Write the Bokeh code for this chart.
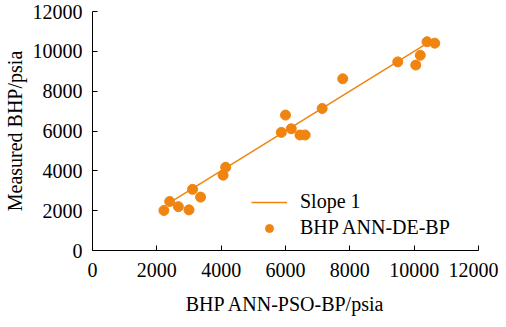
from bokeh.plotting import figure
from bokeh.models import Range1d, FixedTicker, Legend, LegendItem
from bokeh.embed import file_html
from bokeh.resources import INLINE

# Data
pso_bp = [2220, 2400, 2670, 3000, 3110, 3360, 4060, 4140, 5870, 6000, 6180, 6450, 6610,
          7140, 7780, 9490, 10050, 10190, 10400, 10640]
de_bp = [2010, 2460, 2200, 2040, 3070, 2680, 3780, 4180, 5930, 6800, 6110, 5800, 5800,
         7130, 8620, 9470, 9310, 9800, 10480, 10410]
slope_x = [2400, 10300]
slope_y = [2400, 10300]
ticks = [0, 2000, 4000, 6000, 8000, 10000, 12000]

ORANGE = "#EF8510"
FONT = "Liberation Serif"
FS = "20px"

p = figure(frame_width=386, frame_height=239, output_backend="svg", toolbar_location=None,
           x_range=Range1d(0, 12000), y_range=Range1d(0, 12000),
           min_border_left=85, min_border_right=20, min_border_top=11, min_border_bottom=69)
p.outline_line_color = None
p.grid.visible = False
p.background_fill_color = "white"

line_r = p.line(slope_x, slope_y, line_color=ORANGE, line_width=1.5)
pts_r = p.scatter(pso_bp, de_bp, size=10, fill_color=ORANGE, line_color=ORANGE)

for ax in (p.xaxis[0], p.yaxis[0]):
    ax.ticker = FixedTicker(ticks=ticks)
    ax.minor_tick_line_color = None
    ax.major_tick_in = 5
    ax.major_tick_out = 0
    ax.axis_line_color = "black"
    ax.major_tick_line_color = "black"
    ax.axis_line_width = 1
    ax.major_label_text_font = FONT
    ax.major_label_text_font_size = FS
    ax.major_label_text_color = "black"
    ax.axis_label_text_font = FONT
    ax.axis_label_text_font_size = FS
    ax.axis_label_text_font_style = "normal"
    ax.axis_label_text_color = "black"

p.xaxis.axis_label = "BHP ANN-PSO-BP/psia"
p.yaxis.axis_label = "Measured BHP/psia"
p.xaxis.major_label_standoff = 12
p.yaxis.major_label_standoff = 10
p.xaxis.axis_label_standoff = 13
p.yaxis.axis_label_standoff = 4

legend = Legend(items=[LegendItem(label="Slope 1", renderers=[line_r]),
                       LegendItem(label="BHP ANN-DE-BP", renderers=[pts_r])],
                location=(159, 11))
legend.border_line_color = None
legend.background_fill_alpha = 0
legend.label_text_font = FONT
legend.label_text_font_size = FS
legend.label_text_color = "black"
legend.glyph_width = 36
legend.glyph_height = 20
legend.spacing = 3
legend.padding = 0
legend.margin = 0
legend.label_standoff = 13
p.add_layout(legend)

open("out.html", "w").write(file_html(p, INLINE))
